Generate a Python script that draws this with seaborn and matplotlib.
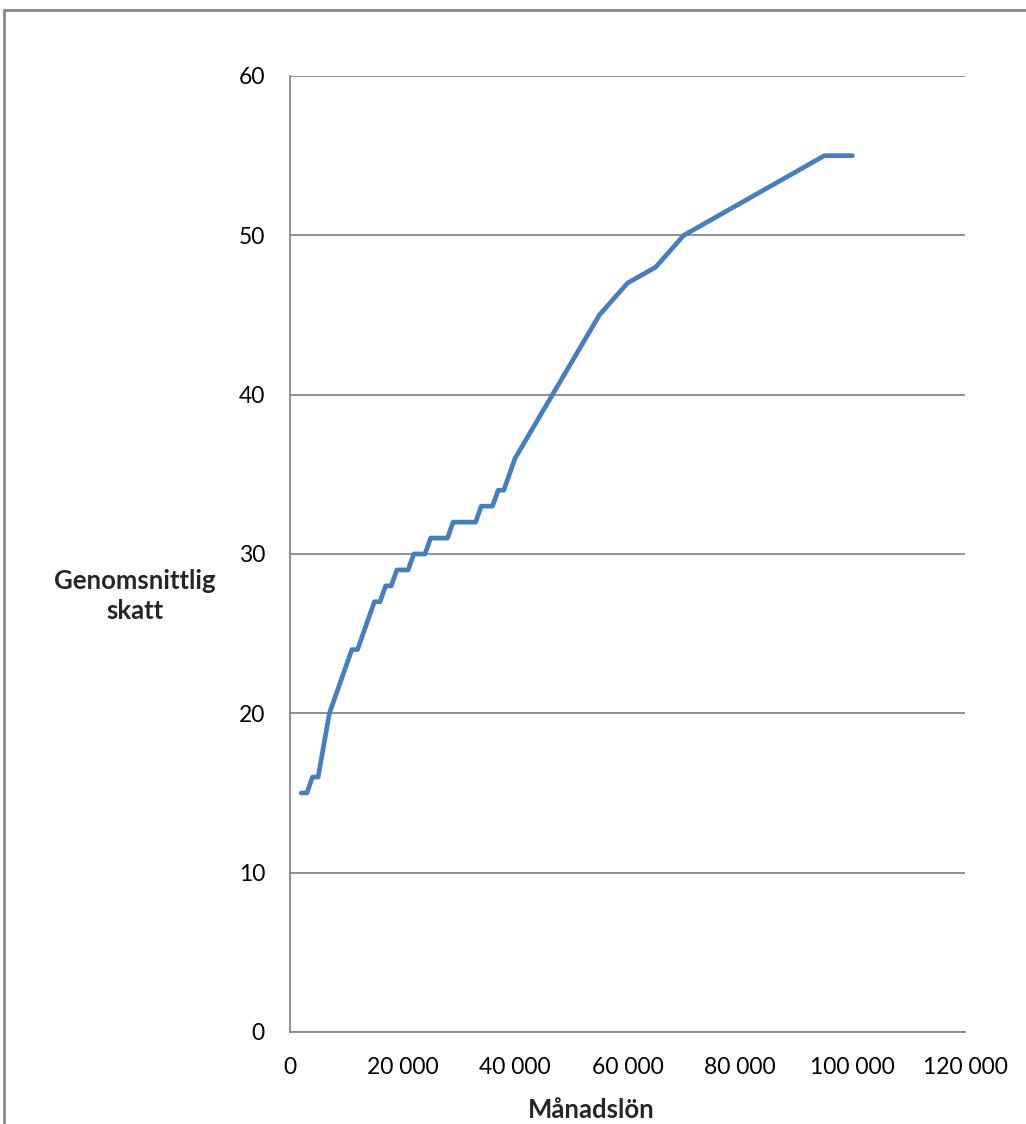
import matplotlib.pyplot as plt
import pandas as pd
import seaborn as sns
from matplotlib.patches import Rectangle

sns.set_style('white')
plt.rcParams['font.family'] = ['Lato', 'DejaVu Sans']

# monthly salary (SEK) and average tax (%)
salary = [2000, 3000, 4000, 5000, 7000, 11000, 12000, 15000, 16000, 17000, 18000,
          19000, 21000, 22000, 24000, 25000, 28000, 29000, 33000, 34000, 36000,
          37000, 38000, 40000, 55000, 60000, 65000, 70000, 95000, 100000]
avg_tax = [15, 15, 16, 16, 20, 24, 24, 27, 27, 28, 28,
           29, 29, 30, 30, 31, 31, 32, 32, 33, 33,
           34, 34, 36, 45, 47, 48, 50, 55, 55]

x_ticks = [0, 20000, 40000, 60000, 80000, 100000, 120000]
x_tick_labels = ['0', '20 000', '40 000', '60 000', '80 000', '100 000', '120 000']
y_ticks = [0, 10, 20, 30, 40, 50, 60]

df = pd.DataFrame({'salary': salary, 'tax': avg_tax})

grey = '#878787'

fig = plt.figure(figsize=(10.26, 11.24), dpi=100)
ax = fig.add_axes([290 / 1026, 1 - 1032 / 1124, 675 / 1026, 956 / 1124])

sns.lineplot(data=df, x='salary', y='tax', ax=ax, color='#4a7ebb', linewidth=3.4,
             solid_joinstyle='round', solid_capstyle='round')

ax.set_xlim(0, 120000)
ax.set_ylim(0, 60)
ax.set_xticks(x_ticks)
ax.set_xticklabels(x_tick_labels)
ax.set_yticks(y_ticks)
ax.yaxis.grid(True, color=grey, linewidth=1.3)
ax.xaxis.grid(False)
ax.set_axisbelow(True)

for side in ['top', 'right']:
    ax.spines[side].set_visible(False)
for side in ['left', 'bottom']:
    ax.spines[side].set_color(grey)
    ax.spines[side].set_linewidth(1.3)

ax.tick_params(axis='both', direction='out', length=6, width=1.3, color=grey,
               labelsize=16.5, labelcolor='black')
ax.tick_params(axis='y', pad=12)
ax.tick_params(axis='x', pad=12)

# axis titles placed where the original chart has them
ax.set_xlabel('')
ax.set_ylabel('')
fig.text(591 / 1026, 1 - 1118 / 1124, 'Månadslön', fontsize=18.5, fontweight='bold',
         ha='center', va='baseline')
fig.text(135 / 1026, 1 - 596 / 1124, 'Genomsnittlig\nskatt', fontsize=18.5, fontweight='bold',
         ha='center', va='center', linespacing=1.3)

# outer chart frame
fig.patches.append(Rectangle((4 / 1026, -0.1), 1.2, 1.1 - 10 / 1124, transform=fig.transFigure,
                             fill=False, edgecolor=grey, linewidth=2))

plt.savefig('out.png', dpi=100)
